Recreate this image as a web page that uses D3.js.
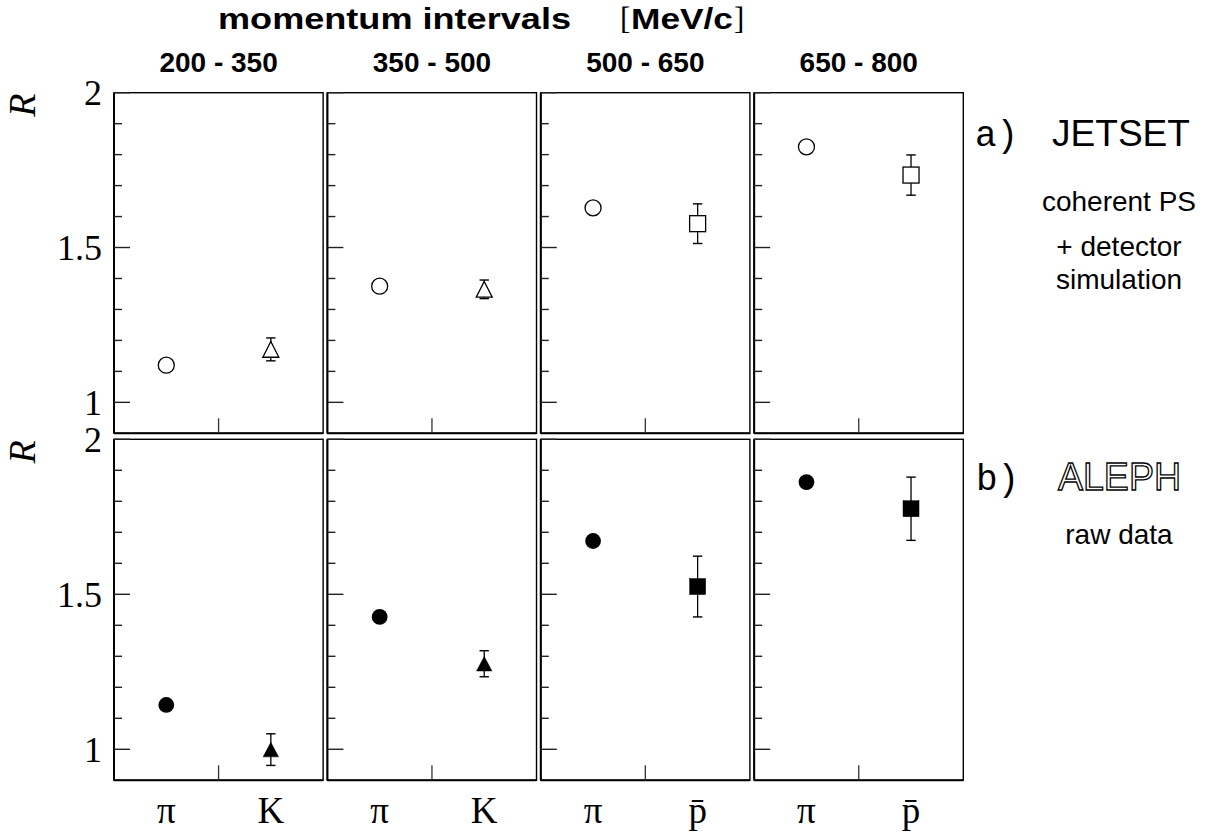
<!DOCTYPE html>
<html>
<head>
<meta charset="utf-8">
<script src="https://cdn.jsdelivr.net/npm/d3@7"></script>
<style>
  body { margin: 0; background: #fff; }
  svg { display: block; }
</style>
</head>
<body>
<script>
// ---- data ----
const intervals = ["200 - 350", "350 - 500", "500 - 650", "650 - 800"];
const particleA = ["π", "π", "π", "π"];
const particleB = ["K", "K", "p\u0304", "p\u0304"];
const markerB = ["triangle", "triangle", "square", "square"];

const jetsetPi = [1.12, 1.375, 1.628, 1.825];
const jetsetB = [1.171, 1.365, 1.577, 1.734];
const jetsetBErr = [0.037, 0.03, 0.064, 0.065];

const alephPi = [1.143, 1.427, 1.672, 1.862];
const alephB = [0.999, 1.276, 1.525, 1.776];
const alephBErr = [0.051, 0.042, 0.098, 0.102];

const yTickLabels = ["1", "1.5", "2"];

// ---- layout ----
const W = 1213, H = 838;
const svg = d3.select("body").append("svg").attr("width", W).attr("height", H);

const panelX = d3.scaleBand().domain(intervals).range([114, 963.3]).paddingInner(0.02).paddingOuter(0);
const rows = [
  { name: "a", top: 92.7, bottom: 433.3, pi: jetsetPi, b: jetsetB, err: jetsetBErr, filled: false },
  { name: "b", top: 439.3, bottom: 780.3, pi: alephPi, b: alephB, err: alephBErr, filled: true }
];

const serif = "'Liberation Serif','Times New Roman',serif";
const sans = "'Liberation Sans',Arial,Helvetica,sans-serif";
const mono = "'Liberation Mono','Courier New',monospace";

const minorTicks = d3.range(10, 21).map(d => d / 10);

rows.forEach((row, ri) => {
  const y = d3.scaleLinear().domain([0.9, 2]).range([row.bottom, row.top]);
  intervals.forEach((iv, i) => {
    const x0 = panelX(iv);
    const x = d3.scaleLinear().domain([0, 1]).range([x0, x0 + panelX.bandwidth()]);
    const g = svg.append("g");

    // frame
    g.append("rect").attr("x", x(0)).attr("y", y(2)).attr("width", x(1) - x(0)).attr("height", y(0.9) - y(2))
      .attr("fill", "none").attr("stroke", "#000").attr("stroke-width", 1.4);
    g.append("line").attr("x1", x(0)).attr("x2", x(0)).attr("y1", y(2)).attr("y2", y(0.9))
      .attr("stroke", "#000").attr("stroke-width", 2);
    g.append("line").attr("x1", x(0)).attr("x2", x(1)).attr("y1", y(0.9)).attr("y2", y(0.9))
      .attr("stroke", "#000").attr("stroke-width", 2);

    // left ticks (inward)
    g.selectAll("line.tk").data(minorTicks).join("line")
      .attr("x1", x(0)).attr("y1", d => y(d)).attr("y2", d => y(d))
      .attr("x2", d => x(0) + ((Math.round(d * 10) % 5 === 0) ? 16 : 8))
      .attr("stroke", "#222").attr("stroke-width", 1.4);

    // bottom middle tick
    g.append("line").attr("x1", x(0.5)).attr("x2", x(0.5)).attr("y1", y(0.9)).attr("y2", y(0.9) - 15)
      .attr("stroke", "#333").attr("stroke-width", 1.3);

    // pion marker
    const cxA = x(0.25), cyA = y(row.pi[i]);
    g.append("circle").attr("cx", cxA).attr("cy", cyA).attr("r", row.filled ? 7.9 : 8)
      .attr("fill", row.filled ? "#000" : "#fff").attr("stroke", "#000").attr("stroke-width", row.filled ? 0 : 1.3);

    // second particle with error bar
    const cxB = x(0.75), cyB = y(row.b[i]);
    const eT = y(row.b[i] + row.err[i]), eB = y(row.b[i] - row.err[i]);
    g.append("line").attr("x1", cxB).attr("x2", cxB).attr("y1", eT).attr("y2", eB)
      .attr("stroke", "#000").attr("stroke-width", 1.3);
    [eT, eB].forEach(v => g.append("line").attr("x1", cxB - 4.7).attr("x2", cxB + 4.7).attr("y1", v).attr("y2", v)
      .attr("stroke", "#000").attr("stroke-width", 1.4));
    const fill = row.filled ? "#000" : "#fff";
    if (markerB[i] === "triangle") {
      const s = row.filled ? 15.4 : 16, h = row.filled ? 14.5 : 15.7;
      g.append("path")
        .attr("d", `M${cxB},${cyB - h / 2}L${cxB + s / 2},${cyB + h / 2}L${cxB - s / 2},${cyB + h / 2}Z`)
        .attr("fill", fill).attr("stroke", "#000").attr("stroke-width", row.filled ? 0.5 : 1.3);
    } else {
      const s = 16;
      g.append("rect").attr("x", cxB - s / 2).attr("y", cyB - s / 2).attr("width", s).attr("height", s)
        .attr("fill", fill).attr("stroke", "#000").attr("stroke-width", row.filled ? 0.5 : 1.3);
    }

    // x labels (bottom row only)
    if (ri === 1) {
      g.append("text").attr("x", cxA).attr("y", 823).attr("text-anchor", "middle")
        .attr("font-family", serif).attr("font-size", 37).text(particleA[i]);
      g.append("text").attr("x", cxB).attr("y", 823).attr("text-anchor", "middle")
        .attr("font-family", serif).attr("font-size", 37).text(particleB[i]);
    }
    // interval labels (top row only)
    if (ri === 0) {
      g.append("text").attr("x", x(0.5)).attr("y", 71.7).attr("text-anchor", "middle")
        .attr("font-family", sans).attr("font-weight", "bold").attr("font-size", 28).text(iv);
    }
  });

  // y tick labels
  svg.append("g").selectAll("text").data(yTickLabels).join("text")
    .attr("x", 102).attr("y", d => y(+d) + 12.2).attr("text-anchor", "end")
    .attr("font-family", serif).attr("font-size", 36).text(d => d);

  // R axis title
  const ry = row.top + 12.5;
  svg.append("text").attr("transform", `translate(35,${ry}) rotate(-90)`).attr("text-anchor", "middle")
    .attr("font-family", serif).attr("font-style", "italic").attr("font-size", 38).text("R");
});

// title
svg.append("text").attr("x", 218).attr("y", 28.5).attr("font-family", sans).attr("font-weight", "bold")
  .attr("font-size", 30).attr("textLength", 353).attr("lengthAdjust", "spacingAndGlyphs").text("momentum intervals");
svg.append("text").attr("x", 620).attr("y", 28.5).attr("font-family", serif).attr("font-size", 31).text("[");
svg.append("text").attr("x", 631).attr("y", 28.5).attr("font-family", sans).attr("font-weight", "bold")
  .attr("font-size", 30).attr("textLength", 102).attr("lengthAdjust", "spacingAndGlyphs").text("MeV/c");
svg.append("text").attr("x", 734).attr("y", 28.5).attr("font-family", serif).attr("font-size", 31).text("]");

// right-side annotations
svg.append("text").attr("x", 975).attr("y", 146).attr("font-family", mono).attr("font-size", 36).text("a)");
svg.append("text").attr("x", 1052).attr("y", 146).attr("font-family", sans).attr("font-size", 37)
  .attr("textLength", 138).attr("lengthAdjust", "spacingAndGlyphs").text("JETSET");
const smallA = [["coherent PS", 211], ["+ detector", 256], ["simulation", 289]];
smallA.forEach(([t, yy]) => svg.append("text").attr("x", 1119).attr("y", yy).attr("text-anchor", "middle")
  .attr("font-family", sans).attr("font-size", 28).text(t));

svg.append("text").attr("x", 976).attr("y", 490).attr("font-family", mono).attr("font-size", 36).text("b)");
svg.append("text").attr("x", 1058).attr("y", 490).attr("font-family", sans).attr("font-size", 38)
  .attr("textLength", 123).attr("lengthAdjust", "spacingAndGlyphs")
  .attr("fill", "#fff").attr("stroke", "#000").attr("stroke-width", 1.3).text("ALEPH");
svg.append("text").attr("x", 1119).attr("y", 544).attr("text-anchor", "middle")
  .attr("font-family", sans).attr("font-size", 28).text("raw data");
</script>
</body>
</html>
